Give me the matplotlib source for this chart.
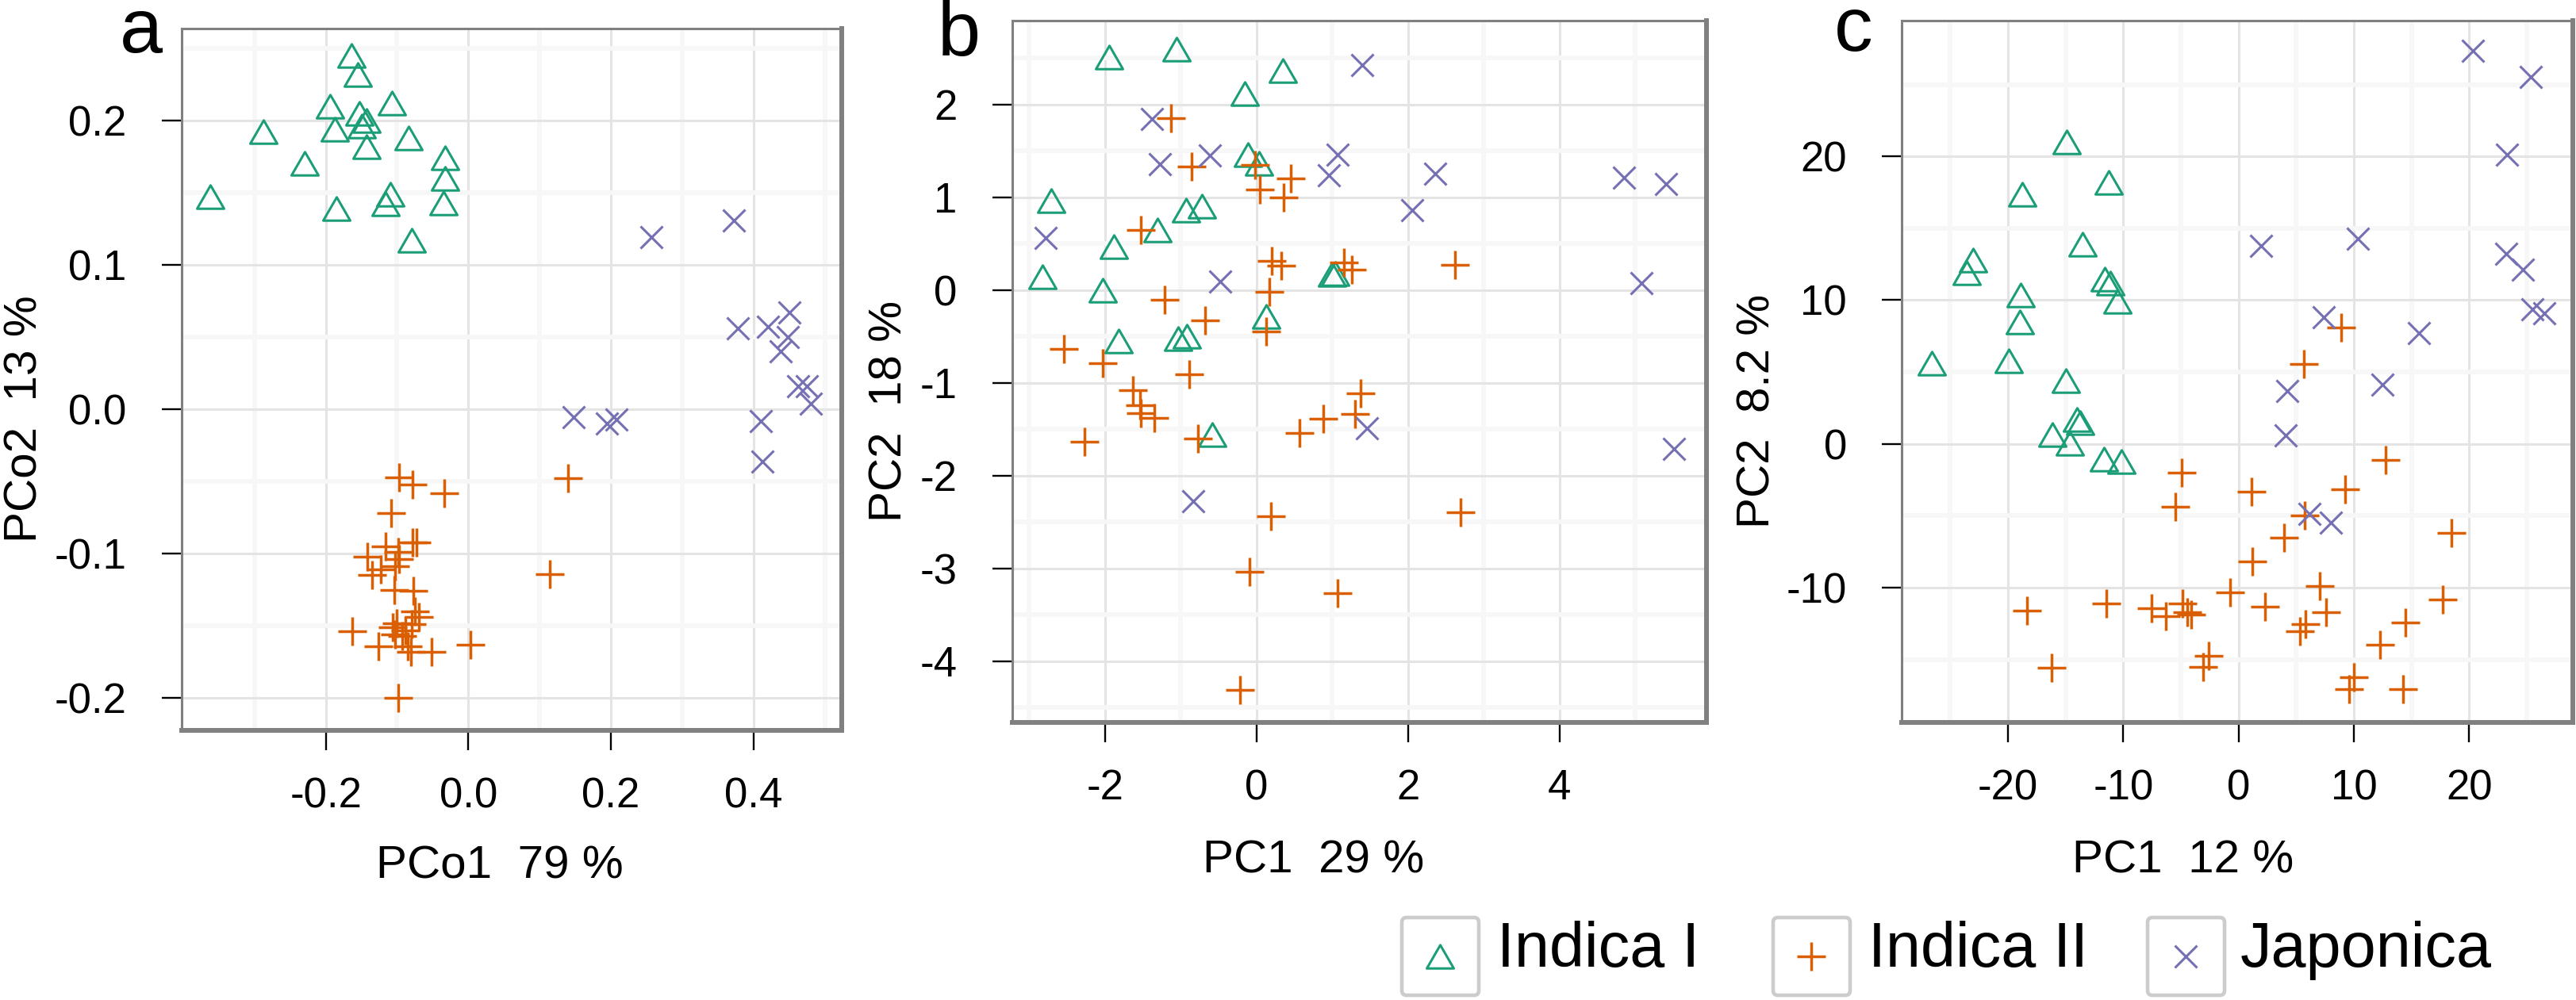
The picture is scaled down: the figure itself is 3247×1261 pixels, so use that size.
import matplotlib
matplotlib.use("Agg")
import matplotlib.pyplot as plt
from matplotlib.path import Path
from matplotlib.patches import FancyBboxPatch

plt.rcParams['font.family'] = ['Liberation Sans', 'DejaVu Sans']

# ---- data ----
groups = ["Indica I", "Indica II", "Japonica"]
colors = ["#1b9e77", "#d95f02", "#7570b3"]

# panel a : PCoA
a_ind1_x = [-0.164, -0.155, -0.194, -0.107, -0.153, -0.143, -0.187, -0.150, -0.287, -0.143,
            -0.084, -0.230, -0.033, -0.033, -0.362, -0.109, -0.185, -0.116, -0.035, -0.079]
a_ind1_y = [0.245, 0.232, 0.210, 0.212, 0.205, 0.200, 0.194, 0.196, 0.192, 0.182,
            0.188, 0.170, 0.174, 0.160, 0.147, 0.149, 0.139, 0.142, 0.143, 0.117]
a_ind2_x = [-0.097, -0.078, -0.034, 0.140, -0.108, -0.116, -0.078, -0.142, -0.098, -0.097,
            -0.103, -0.135, 0.114, -0.104, -0.077, -0.075, -0.069, -0.101, -0.079, -0.106,
            -0.088, -0.163, -0.103, -0.126, -0.085, -0.080, -0.051, 0.003, -0.098, -0.073,
            -0.123, -0.093]
a_ind2_y = [-0.047, -0.052, -0.058, -0.048, -0.072, -0.095, -0.092, -0.102, -0.099, -0.104,
            -0.109, -0.115, -0.114, -0.125, -0.126, -0.140, -0.144, -0.148, -0.149, -0.151,
            -0.153, -0.154, -0.156, -0.164, -0.164, -0.168, -0.168, -0.163, -0.200, -0.092,
            -0.111, -0.157]
a_jap_x = [0.372, 0.257, 0.450, 0.378, 0.420, 0.448, 0.438, 0.463, 0.475, 0.481,
           0.148, 0.195, 0.208, 0.410, 0.413]
a_jap_y = [0.1305, 0.119, 0.067, 0.056, 0.057, 0.050, 0.040, 0.016, 0.016, 0.004,
           -0.0055, -0.0097, -0.0071, -0.008, -0.036]

# panel b : PCA
b_ind1_x = [-1.94, -1.055, 0.345, -0.157, -0.107, 0.031, -2.71, -0.93, -0.716, -1.31,
            -1.88, -2.82, -2.03, 1.036, 1.00, 0.126, -1.82, -1.036, -0.92, -0.584]
b_ind1_y = [2.51, 2.60, 2.37, 2.12, 1.46, 1.37, 0.963, 0.859, 0.90, 0.649,
            0.471, 0.141, 0.0, 0.178, 0.168, -0.288, -0.55, -0.524, -0.497, -1.56]
b_ind2_x = [-1.13, -0.854, -0.013, 0.05, 0.452, 0.358, -1.52, 0.20, 0.327, 1.16,
            1.26, 2.625, 0.17, -1.21, -0.678, 0.126, -2.54, -2.03, -0.885, -1.63,
            1.38, -1.54, -1.52, -1.35, 1.30, 0.879, 0.565, -2.27, -0.766, 0.188,
            2.69, -0.094, 1.067, -0.22]
b_ind2_y = [1.853, 1.33, 1.346, 1.084, 1.204, 0.995, 0.649, 0.314, 0.262, 0.30,
            0.22, 0.272, -0.016, -0.105, -0.325, -0.445, -0.634, -0.79, -0.911, -1.079,
            -1.115, -1.246, -1.325, -1.377, -1.335, -1.387, -1.545, -1.639, -1.60, -2.44,
            -2.40, -3.037, -3.27, -4.31]
b_jap_x = [1.40, -1.375, -1.275, -0.615, 1.067, 0.954, 2.355, 2.06, -2.78, -0.477,
           1.463, -0.829, 4.856, 5.41, 5.08, 5.51]
b_jap_y = [2.43, 1.843, 1.356, 1.45, 1.46, 1.24, 1.251, 0.86, 0.56, 0.089,
           -1.492, -2.277, 1.214, 1.146, 0.079, -1.716]

# panel c : PCA
c_ind1_x = [-14.93, -11.26, -18.73, -13.5, -23.02, -23.55, -11.58, -11.13, -18.9, -10.5,
            -19.0, -26.6, -19.93, -15.0, -14.03, -13.77, -16.18, -14.6, -11.66, -10.15]
c_ind1_y = [21.0, 18.19, 17.35, 13.87, 12.79, 11.88, 11.44, 11.2, 10.36, 9.92,
            8.5, 5.64, 5.77, 4.42, 1.72, 1.48, 0.64, 0.07, -1.08, -1.22]
c_ind2_x = [8.9, 5.7, 12.75, -4.96, 9.25, 1.13, -5.45, 5.76, 18.5, 3.92,
            1.21, -0.74, 7.02, 17.7, -11.44, -18.37, -7.55, -6.3, -4.83, -4.42,
            -4.07, 2.32, 7.57, 5.8, 5.34, 14.5, 12.28, -2.59, -3.04, -16.22,
            10.0, 9.58, 14.25]
c_ind2_y = [8.07, 5.55, -1.13, -1.99, -3.15, -3.34, -4.35, -4.97, -6.21, -6.51,
            -8.2, -10.33, -9.89, -10.83, -11.1, -11.58, -11.44, -12.0, -11.1, -11.68,
            -11.85, -11.34, -11.7, -12.52, -13.03, -12.42, -13.97, -14.71, -15.49, -15.56,
            -16.2, -17.08, -17.08]
c_jap_x = [20.3, 25.34, 23.3, 1.93, 10.37, 23.2, 24.65, 25.5, 26.5, 7.42,
           15.66, 4.2, 12.47, 4.1, 6.14, 8.0]
c_jap_y = [27.35, 25.5, 20.1, 13.8, 14.3, 13.2, 12.1, 9.35, 9.1, 8.84,
           7.73, 3.68, 4.12, 0.57, -4.85, -5.45]

a_xticks = [-0.2, 0.0, 0.2, 0.4]
a_yticks = [-0.2, -0.1, 0.0, 0.1, 0.2]
b_xticks = [-2, 0, 2, 4]
b_yticks = [-4, -3, -2, -1, 0, 1, 2]
c_xticks = [-20, -10, 0, 10, 20]
c_yticks = [-10, 0, 10, 20]

# ---- figure ----
W, H = 3248, 1261
fig = plt.figure(figsize=(W / 100, H / 100), dpi=100)

tri = Path([(-1, -0.866), (1, -0.866), (0, 0.866), (-1, -0.866)],
           [Path.MOVETO, Path.LINETO, Path.LINETO, Path.CLOSEPOLY])
marks = [dict(marker=tri, ms=24.5, mew=2.2, mfc='none'),
         dict(marker='+', ms=26.5, mew=2.5),
         dict(marker='x', ms=19.5, mew=2.2)]


def add_px_axes(l, t, r, b):
    return fig.add_axes([l / W, 1 - b / H, (r - l) / W, (b - t) / H])


def fmt(v, nd):
    return f"{v:.{nd}f}"


panels = [
    dict(box=(229, 36, 1061, 921), xlim=(-0.4021, 0.5239), ylim=(-0.2224, 0.2636),
         xt=a_xticks, yt=a_yticks, nd=1,
         xminor=[-0.3, -0.1, 0.1, 0.3, 0.5], yminor=[-0.15, -0.05, 0.05, 0.15, 0.25],
         data=[(a_ind1_x, a_ind1_y), (a_ind2_x, a_ind2_y), (a_jap_x, a_jap_y)],
         xlab="PCo1  79 %", ylab="PCo2  13 %", letter="a",
         xlpos=(0.482, -0.2102), ylpos=(-0.2368, 0.444), lpos=(-0.0288, 0.966)),
    dict(box=(1276, 26, 2151, 911), xlim=(-3.221, 5.941), ylim=(-4.662, 2.905),
         xt=b_xticks, yt=b_yticks, nd=0,
         xminor=[-3, -1, 1, 3, 5], yminor=[-4.5, -3.5, -2.5, -1.5, -0.5, 0.5, 1.5, 2.5],
         data=[(b_ind1_x, b_ind1_y), (b_ind2_x, b_ind2_y), (b_jap_x, b_jap_y)],
         xlab="PC1  29 %", ylab="PC2  18 %", letter="b",
         xlpos=(0.434, -0.2136), ylpos=(-0.176, 0.444), lpos=(-0.0457, 0.950)),
    dict(box=(2397.5, 26, 3243, 911), xlim=(-29.19, 29.0), ylim=(-19.37, 29.44),
         xt=c_xticks, yt=c_yticks, nd=0,
         xminor=[-25, -15, -5, 5, 15, 25], yminor=[-15, -5, 5, 15, 25],
         data=[(c_ind1_x, c_ind1_y), (c_ind2_x, c_ind2_y), (c_jap_x, c_jap_y)],
         xlab="PC1  12 %", ylab="PC2  8.2 %", letter="c",
         xlpos=(0.419, -0.2136), ylpos=(-0.2147, 0.444), lpos=(-0.0443, 0.957)),
]

for p in panels:
    ax = add_px_axes(*p['box'])
    for (xs, ys), col, mk in zip(p['data'], colors, marks):
        ax.plot(xs, ys, ls='none', color=col, mec=col, **mk)
    ax.set_xlim(*p['xlim'])
    ax.set_ylim(*p['ylim'])
    ax.set_xticks(p['xt'])
    ax.set_xticklabels([fmt(v, p['nd']) for v in p['xt']])
    ax.set_yticks(p['yt'])
    ax.set_yticklabels([fmt(v, p['nd']) for v in p['yt']])
    ax.set_xticks(p['xminor'], minor=True)
    ax.set_yticks(p['yminor'], minor=True)
    ax.set_axisbelow(True)
    ax.grid(which='major', color='#e4e4e4', lw=2.2)
    ax.grid(which='minor', color='#f7f7f7', lw=4.3)
    ax.tick_params(which='minor', length=0)
    ax.tick_params(which='major', direction='out', length=18, width=1.7,
                   color='black', labelsize=38)
    ax.tick_params(axis='x', pad=24)
    ax.tick_params(axis='y', pad=32)
    for s in ['left', 'top']:
        ax.spines[s].set_color('#808080')
        ax.spines[s].set_linewidth(2.2)
    for s in ['right', 'bottom']:
        ax.spines[s].set_color('#808080')
        ax.spines[s].set_linewidth(4.3)
    ax.text(*p['xlpos'], p['xlab'], transform=ax.transAxes, fontsize=42,
            ha='center', va='baseline')
    ax.text(*p['ylpos'], p['ylab'], transform=ax.transAxes, fontsize=42,
            ha='center', va='center', rotation=90)
    ax.text(*p['lpos'], p['letter'], transform=ax.transAxes, fontsize=70,
            ha='right', va='baseline')

# ---- legend (pixel layout) ----
lax = fig.add_axes([0, 0, 1, 1])
lax.set_xlim(0, W)
lax.set_ylim(H, 0)
lax.axis('off')
key_left = [1767, 2235, 2707]
text_left = [1887, 2355, 2824]
for name, col, mk, kx, tx in zip(groups, colors, marks, key_left, text_left):
    lax.add_patch(FancyBboxPatch((kx, 1157), 97, 98,
                                 boxstyle='round,pad=0,rounding_size=6',
                                 fc='white', ec='#cccccc', lw=3.3))
    lax.plot([kx + 48.5], [1206], ls='none', color=col, mec=col, **mk)
    lax.text(tx, 1219, name, fontsize=57, ha='left', va='baseline')

fig.savefig("out.png", dpi=100)
